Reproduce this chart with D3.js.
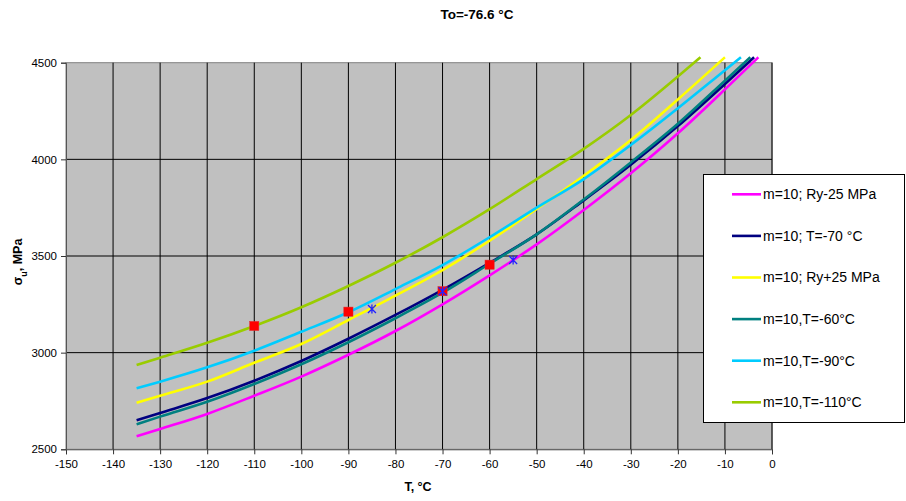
<!DOCTYPE html>
<html>
<head>
<meta charset="utf-8">
<script src="https://cdn.jsdelivr.net/npm/d3@7"></script>
<style>
  body { margin: 0; background: #fff; }
  text { font-family: "Liberation Sans", Arial, sans-serif; }
  .tick text { font-size: 11.5px; fill: #000; }
  .title { font-size: 13.5px; font-weight: bold; }
  .axis-label { font-size: 12.5px; font-weight: bold; }
  .legend text { font-size: 14px; }
</style>
</head>
<body>
<div id="chart"></div>
<script>
// 1: DATA
const temps = [-135, -130, -120, -110, -100, -90, -80, -70, -60, -50, -40, -30, -20, -10];

const seriesNames = ["m=10; Ry-25 MPa", "m=10; T=-70 °C", "m=10; Ry+25 MPa",
                     "m=10,T=-60°C", "m=10,T=-90°C", "m=10,T=-110°C"];
const seriesColors = ["#ff00ff", "#000080", "#ffff00", "#008080", "#00ccff", "#99cc00"];

const ryMinus = [2567, 2605, 2683, 2777, 2876, 2989, 3112, 3250, 3400, 3560, 3738, 3928, 4135, 4362];
const t70     = [2650, 2688, 2765, 2855, 2957, 3072, 3195, 3325, 3465, 3612, 3788, 3972, 4172, 4390];
const ryPlus  = [2741, 2777, 2850, 2948, 3045, 3169, 3295, 3427, 3579, 3743, 3915, 4100, 4310];
const t60     = [2629, 2669, 2746, 2838, 2940, 3054, 3178, 3310, 3460, 3612, 3792, 3984, 4184, 4407];
const t90     = [2816, 2850, 2924, 3010, 3108, 3209, 3329, 3453, 3597, 3750, 3898, 4074, 4264, 4461];
const t110    = [2936, 2974, 3051, 3138, 3235, 3345, 3465, 3597, 3742, 3898, 4054, 4229, 4428];

// where each curve leaves the top of the plot
const endT = [-2.9, -3.8, -10, -4.6, -6.6, -15.2];
const endSigma = 4528;

// markers
const squareT = [-110, -90, -70, -60];
const squareS = [3138, 3212, 3318, 3455];
const starT = [-85, -70, -55];
const starS = [3226, 3318, 3479];

const xTicks = d3.range(-150, 1, 10);
const yTicks = [2500, 3000, 3500, 4000, 4500];

// 2: SETUP
const margin = { top: 62.7, right: 134, bottom: 51.7, left: 66 };
const W = 906, H = 501;
const width = W - margin.left - margin.right;
const height = H - margin.top - margin.bottom;

const root = d3.select("#chart").append("svg")
    .attr("width", W)
    .attr("height", H);

const svg = root.append("g")
    .attr("transform", `translate(${margin.left},${margin.top})`);

const xScale = d3.scaleLinear().domain([-150, 0]).range([0, width]);
const yScale = d3.scaleLinear().domain([2500, 4500]).range([height, 0]);

// 3: PLOT AREA + GRID
svg.append("rect")
    .attr("width", width)
    .attr("height", height)
    .attr("fill", "#c0c0c0")
    .attr("stroke", "#808080");

svg.selectAll(".vgrid")
    .data(xTicks.slice(1))
    .enter().append("line")
    .attr("x1", d => xScale(d)).attr("x2", d => xScale(d))
    .attr("y1", 0).attr("y2", height)
    .attr("stroke", "#000").attr("stroke-width", 1);

svg.selectAll(".hgrid")
    .data(yTicks.slice(1, -1))
    .enter().append("line")
    .attr("x1", 0).attr("x2", width)
    .attr("y1", d => yScale(d)).attr("y2", d => yScale(d))
    .attr("stroke", "#000").attr("stroke-width", 1);

// 4: AXES (plain hyphen for negatives, like the original)
const xAxis = svg.append("g")
    .attr("transform", `translate(0,${height})`)
    .call(d3.axisBottom(xScale).tickValues(xTicks).tickSize(5).tickPadding(6).tickFormat(d => String(d)));
const yAxis = svg.append("g")
    .call(d3.axisLeft(yScale).tickValues(yTicks).tickSize(5).tickPadding(4).tickFormat(d => String(d)));
[xAxis, yAxis].forEach(a => {
    a.select(".domain").attr("stroke", "#555");
    a.selectAll(".tick line").attr("stroke", "#333");
});

// 5: LINES
const allValues = [ryMinus, t70, ryPlus, t60, t90, t110];
const lineData = allValues.map((vals, i) => {
    const pts = vals.map((v, j) => ({ t: temps[j], s: v }));
    pts.push({ t: endT[i], s: endSigma });
    return pts;
});

const line = d3.line()
    .x(d => xScale(d.t))
    .y(d => yScale(d.s))
    .curve(d3.curveMonotoneX);

svg.selectAll(".curve")
    .data(lineData)
    .enter().append("path")
    .attr("class", "curve")
    .attr("d", line)
    .attr("fill", "none")
    .attr("stroke", (d, i) => seriesColors[i])
    .attr("stroke-width", 2.6);

// 6: MARKERS
svg.selectAll(".sq")
    .data(squareT.map((t, i) => ({ t, s: squareS[i] })))
    .enter().append("rect")
    .attr("x", d => xScale(d.t) - 4.6)
    .attr("y", d => yScale(d.s) - 4.6)
    .attr("width", 9.2).attr("height", 9.2)
    .attr("fill", "#ff0000")
    .attr("stroke", "#e03030").attr("stroke-width", 0.5);

svg.selectAll(".star")
    .data(starT.map((t, i) => ({ t, s: starS[i] })))
    .enter().append("path")
    .attr("transform", d => `translate(${xScale(d.t)},${yScale(d.s)})`)
    .attr("d", "M-4,-4L4,4M-4,4L4,-4M0,-4.5L0,4.5")
    .attr("stroke", "#2222ff")
    .attr("stroke-width", 1.3)
    .attr("fill", "none");

// 7: LABELS
root.append("text")
    .attr("class", "title")
    .attr("x", 477)
    .attr("y", 19)
    .attr("text-anchor", "middle")
    .text("To=-76.6 °C");

root.append("text")
    .attr("class", "axis-label")
    .attr("x", 418)
    .attr("y", 491)
    .attr("text-anchor", "middle")
    .text("T, °C");

const yl = root.append("text")
    .attr("class", "axis-label")
    .attr("transform", "translate(22,262) rotate(-90)")
    .attr("text-anchor", "middle");
yl.append("tspan").text("σ");
yl.append("tspan").attr("baseline-shift", "sub").attr("font-size", "9px").text("u");
yl.append("tspan").text(", MPa");

// 8: LEGEND
root.append("rect")
    .attr("x", 703.5).attr("y", 174.5)
    .attr("width", 201).attr("height", 248)
    .attr("fill", "#fff")
    .attr("stroke", "#000");

const legend = root.selectAll(".legend")
    .data(seriesNames)
    .enter().append("g")
    .attr("class", "legend")
    .attr("transform", (d, i) => `translate(732, ${194.3 + i * 41.6})`);

legend.append("line")
    .attr("x1", 0).attr("x2", 29)
    .attr("stroke", (d, i) => seriesColors[i])
    .attr("stroke-width", 2.6);

legend.append("text")
    .attr("x", 31)
    .attr("y", 0)
    .attr("dy", "0.35em")
    .text(d => d);
</script>
</body>
</html>
